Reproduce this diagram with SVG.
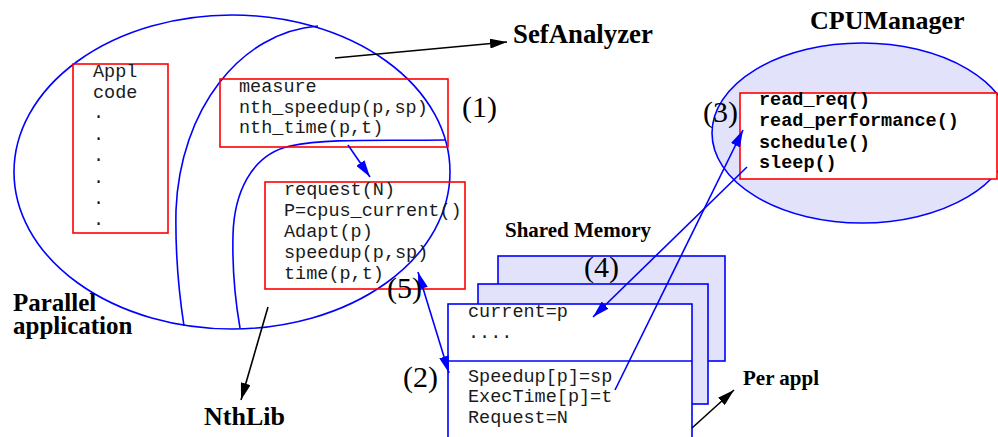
<svg xmlns="http://www.w3.org/2000/svg" width="998" height="437" viewBox="0 0 998 437">
  <style>
    .blue { fill: none; stroke: #0000ff; stroke-width: 1.6; }
    .redbox { fill: #ffffff; stroke: #ff0000; stroke-width: 1.6; }
    .redbox-t { fill: none; stroke: #ff0000; stroke-width: 1.6; }
    .mem { fill: #e2e2fa; stroke: #0000ff; stroke-width: 1.6; }
    .mono { font-family: "Liberation Mono", "Courier New", monospace; font-size: 18.5px; fill: #1a1a1a; }
    .monob { font-family: "Liberation Mono", "Courier New", monospace; font-size: 18.5px; font-weight: bold; fill: #000; }
    .title { font-family: "Liberation Serif", "Times New Roman", serif; font-weight: bold; fill: #000; }
    .num { font-family: "Liberation Serif", "Times New Roman", serif; font-size: 30px; fill: #000; }
    .black { fill: none; stroke: #000; stroke-width: 1.6; }
  </style>
  <defs>
    <marker id="ahBlack" markerUnits="userSpaceOnUse" markerWidth="18" markerHeight="10" refX="17" refY="5" orient="auto">
      <path d="M0,0 L17,5 L0,10 Z" fill="#000"/>
    </marker>
    <marker id="ahBlue" markerUnits="userSpaceOnUse" markerWidth="18" markerHeight="10" refX="17" refY="5" orient="auto">
      <path d="M0,0 L17,5 L0,10 Z" fill="#0000ff"/>
    </marker>
    <marker id="ahBlueStart" markerUnits="userSpaceOnUse" markerWidth="18" markerHeight="10" refX="0" refY="5" orient="auto">
      <path d="M17,0 L0,5 L17,10 Z" fill="#0000ff"/>
    </marker>
  </defs>

  <!-- Parallel application with its NthLib layers -->
  <g id="parallel-app">
    <ellipse class="blue" cx="232" cy="172" rx="218" ry="157"/>
    <path class="blue" d="M318,26 C240,32 180,110 176,210 C175,260 180,300 184,326"/>
    <path class="blue" d="M445,140 C380,141 330,138 290,146 C250,155 234,195 233,235 C232,275 236,305 240,328"/>
  </g>

  <g id="appl-code">
    <rect class="redbox-t" x="73" y="64" width="95" height="169"/>
    <text class="mono" x="93" y="77">Appl</text>
    <text class="mono" x="93" y="98">code</text>
    <text class="mono" x="93" y="118">.</text>
    <text class="mono" x="93" y="140">.</text>
    <text class="mono" x="93" y="161">.</text>
    <text class="mono" x="93" y="183">.</text>
    <text class="mono" x="93" y="204">.</text>
    <text class="mono" x="93" y="225">.</text>
  </g>

  <g id="measure-box">
    <rect class="redbox-t" x="220" y="79" width="228" height="68"/>
    <text class="mono" x="239" y="92">measure</text>
    <text class="mono" x="239" y="113">nth_speedup(p,sp)</text>
    <text class="mono" x="239" y="133">nth_time(p,t)</text>
  </g>

  <g id="request-box">
    <rect class="redbox-t" x="265" y="182" width="200" height="107"/>
    <text class="mono" x="284" y="195">request(N)</text>
    <text class="mono" x="284" y="216">P=cpus_current()</text>
    <text class="mono" x="284" y="237">Adapt(p)</text>
    <text class="mono" x="284" y="258">speedup(p,sp)</text>
    <text class="mono" x="284" y="279">time(p,t)</text>
  </g>

  <!-- CPU manager -->
  <g id="cpu-manager">
    <ellipse cx="862" cy="133" rx="150" ry="90" fill="#e2e2fa" stroke="#0000ff" stroke-width="1.6"/>
    <rect class="redbox" x="740" y="93" width="257" height="86"/>
    <text class="monob" x="759" y="105">read_req()</text>
    <text class="monob" x="759" y="126">read_performance()</text>
    <text class="monob" x="759" y="148">schedule()</text>
    <text class="monob" x="759" y="168">sleep()</text>
  </g>

  <!-- Shared memory, one page per application -->
  <g id="shared-memory">
    <rect class="mem" x="498" y="256" width="227" height="105"/>
    <rect class="mem" x="478" y="284" width="230" height="120"/>
    <rect x="448" y="304" width="244" height="140" fill="#ffffff" stroke="#0000ff" stroke-width="1.6"/>
    <line x1="448" y1="361" x2="692" y2="361" stroke="#0000ff" stroke-width="1.6"/>
    <text class="mono" x="468" y="317">current=p</text>
    <text class="mono" x="468" y="338">....</text>
    <text class="mono" x="468" y="382">Speedup[p]=sp</text>
    <text class="mono" x="468" y="402">ExecTime[p]=t</text>
    <text class="mono" x="468" y="423">Request=N</text>
  </g>

  <!-- Connectors -->
  <g id="connectors">
    <line class="black" x1="335" y1="58" x2="507" y2="42" marker-end="url(#ahBlack)"/>
    <line class="black" x1="268" y1="307" x2="241" y2="400" marker-end="url(#ahBlack)"/>
    <line class="black" x1="692" y1="428" x2="734" y2="390" marker-end="url(#ahBlack)"/>
    <line class="blue" x1="348" y1="145" x2="370" y2="177" marker-end="url(#ahBlue)"/>
    <line class="blue" x1="418" y1="272" x2="449" y2="373" marker-start="url(#ahBlueStart)" marker-end="url(#ahBlue)"/>
    <line class="blue" x1="615" y1="390" x2="743" y2="130" marker-end="url(#ahBlue)"/>
    <line class="blue" x1="747" y1="167" x2="593" y2="317" marker-end="url(#ahBlue)"/>
  </g>

  <!-- Labels -->
  <g id="labels">
    <text class="title" x="513" y="43" font-size="26.8">SefAnalyzer</text>
    <text class="title" x="810" y="29" font-size="26">CPUManager</text>
    <text class="title" x="505" y="237" font-size="21">Shared Memory</text>
    <text class="title" x="743" y="385" font-size="21">Per appl</text>
    <text class="title" x="13" y="311" font-size="25">Parallel</text>
    <text class="title" x="13" y="334" font-size="25">application</text>
    <text class="title" x="204" y="425" font-size="26">NthLib</text>
    <text class="num" x="462" y="117">(1)</text>
    <text class="num" x="403" y="387">(2)</text>
    <text class="num" x="703" y="122">(3)</text>
    <text class="num" x="584" y="277">(4)</text>
    <text class="num" x="387" y="298" font-size="26">(5)</text>
  </g>
</svg>
